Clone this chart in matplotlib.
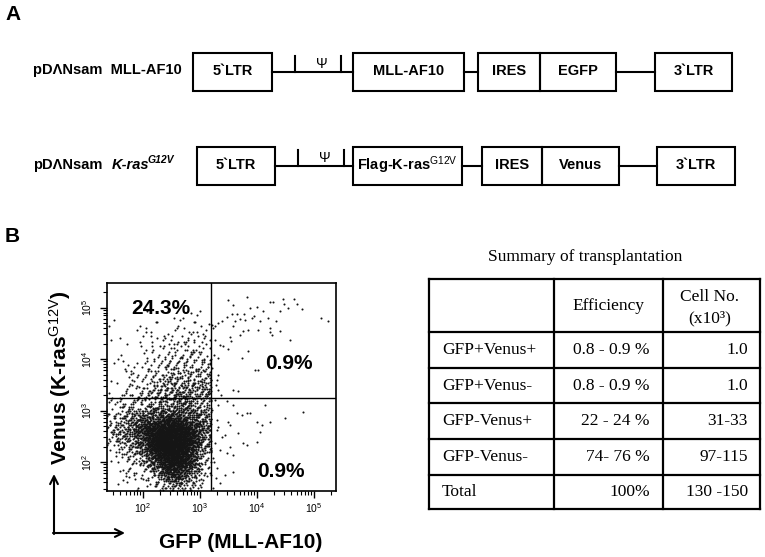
import numpy as np
import matplotlib
matplotlib.use("Agg")
import matplotlib.pyplot as plt
from matplotlib.patches import Rectangle
from matplotlib.ticker import LogLocator, LogFormatterSciNotation, NullFormatter

plt.rcParams['font.family'] = ['Liberation Sans', 'DejaVu Sans']
plt.rcParams['mathtext.fontset'] = 'custom'
plt.rcParams['mathtext.rm'] = 'Liberation Sans'
plt.rcParams['mathtext.it'] = 'Liberation Sans:italic'
plt.rcParams['mathtext.bf'] = 'Liberation Sans:bold'

# ---- panel A: vector constructs (kind, label, width in px)
construct1 = [("box", "5`LTR", 79), ("psi", "", 81), ("box", "MLL-AF10", 111),
              ("link", "", 14), ("box", "IRES", 62), ("box", "EGFP", 76),
              ("link", "", 39), ("box", "3`LTR", 77)]
construct2 = [("box", "5`LTR", 78), ("psi", "", 78), ("box", "Flag-K-ras$^{\\mathrm{G12V}}$", 109),
              ("link", "", 20), ("box", "IRES", 60), ("box", "Venus", 77),
              ("link", "", 38), ("box", "3`LTR", 78)]

# ---- panel B: flow cytometry (log10 units)
# event counts per cell left of the GFP gate, rows top (high Venus) -> bottom
grid_x_edges = [1.38, 1.64, 1.90, 2.16, 2.42, 2.68, 2.94, 3.20]
grid_y_edges = [5.47, 5.22, 4.97, 4.72, 4.48, 4.24, 3.99, 3.74, 3.50, 3.25,
                2.99, 2.73, 2.47, 2.22, 1.96, 1.70, 1.44]
grid_counts = [
    [0, 0, 0, 0, 0, 0, 0],
    [0, 0, 0, 0, 0, 0, 0],
    [1, 0, 1, 1, 2, 2, 2],
    [1, 1, 2, 3, 4, 5, 4],
    [1, 2, 3, 5, 7, 8, 7],
    [1, 2, 4, 8, 12, 14, 11],
    [2, 4, 7, 12, 18, 20, 17],
    [3, 5, 10, 20, 28, 30, 25],
    [4, 9, 17, 34, 45, 45, 38],
    [10, 15, 22, 35, 45, 40, 30],
    [20, 45, 70, 100, 120, 90, 45],
    [30, 70, 130, 260, 300, 190, 60],
    [12, 35, 90, 300, 340, 180, 40],
    [6, 15, 40, 160, 280, 130, 20],
    [3, 6, 15, 55, 170, 80, 8],
    [1, 3, 6, 15, 50, 30, 3],
]
# GFP+ events read individually
ur_gfp = [3.49, 3.82, 3.58, 4.00, 3.88, 4.23, 4.28, 4.46, 4.65, 4.47, 4.70, 4.54, 4.79, 4.40,
          4.11, 3.56, 3.65, 3.77, 3.95, 3.47, 3.70, 3.79, 3.91, 4.19, 4.33, 3.61, 3.39, 3.32,
          4.05, 5.12, 5.25, 3.26, 3.21, 3.58, 3.75, 3.84, 4.02, 4.23, 4.23, 4.26, 4.40, 3.70,
          3.53, 3.54, 4.58, 3.40, 3.49, 3.84, 3.32, 3.74, 3.96, 4.02, 3.32, 3.30, 3.58, 3.67,
          3.32, 3.23, 3.26, 3.25, 3.35, 3.21, 3.28, 3.37]
ur_venus = [5.15, 5.20, 5.05, 5.01, 4.99, 5.11, 5.11, 5.17, 5.17, 5.07, 5.07, 4.99, 4.97, 4.93,
            4.93, 4.87, 4.87, 4.87, 4.83, 4.82, 4.78, 4.76, 4.80, 4.80, 4.74, 4.74, 4.74, 4.70,
            4.74, 4.80, 4.74, 4.64, 4.66, 4.64, 4.54, 4.56, 4.56, 4.60, 4.52, 4.47, 4.54, 4.47,
            4.43, 4.35, 4.37, 4.25, 4.19, 4.16, 4.02, 4.02, 3.79, 3.79, 3.69, 3.59, 3.40, 3.38,
            3.40, 4.60, 4.37, 4.08, 4.27, 3.83, 3.50, 3.30]
lr_gfp = [3.26, 3.32, 3.47, 3.58, 4.14, 3.65, 3.74, 3.82, 3.88, 4.81, 4.00, 4.09, 4.23, 4.49,
          3.30, 3.32, 3.44, 3.67, 4.05, 3.49, 3.53, 3.30, 3.39, 3.75, 3.53, 4.00, 3.82, 3.26,
          3.35, 3.47, 3.58, 3.23, 3.30, 3.44, 3.58, 3.35, 3.21, 3.25, 3.28, 3.23]
lr_venus = [3.20, 3.11, 3.18, 3.11, 3.11, 2.95, 2.91, 2.95, 2.95, 2.97, 2.78, 2.72, 2.78, 2.85,
            2.82, 2.68, 2.52, 2.56, 2.58, 2.78, 2.72, 2.62, 2.49, 2.37, 2.29, 2.39, 2.33, 2.37,
            2.23, 2.17, 2.14, 2.08, 1.88, 1.75, 1.81, 1.59, 3.01, 2.00, 1.69, 1.50]
gate_gfp, gate_venus = 3.19, 3.25
quad_labels = ["24.3%", "0.9%", "0.9%"]
quad_pos = [(2.32, 4.99), (4.56, 3.92), (4.42, 1.81)]

# ---- table
table_title = "Summary of transplantation"
row_names = ["GFP+Venus+", "GFP+Venus-", "GFP-Venus+", "GFP-Venus-", "Total"]
efficiency = ["0.8 - 0.9 %", "0.8 - 0.9 %", "22 - 24 %", "74- 76 %", "100%"]
cell_no = ["1.0", "1.0", "31-33", "97-115", "130 -150"]

# Kronecker steps for a 4-d low-discrepancy sequence
R4 = [0.8566748839, 0.7338918566, 0.6287067210, 0.5385972572]


def fill_cells(counts, xe, ye):
    # put each cell's events around the cell centre (tent kernel one cell wide)
    xs, ys = [], []
    start = 1
    for i, row in enumerate(counts):
        for j, n in enumerate(row):
            if n == 0:
                continue
            k = np.arange(start, start + n)
            start += n
            u1, u2, u3, u4 = [(0.5 + k * a) % 1 for a in R4]
            w, h = xe[j + 1] - xe[j], ye[i] - ye[i + 1]
            xs.append((xe[j] + xe[j + 1]) / 2 + w * (u1 + u2 - 1))
            ys.append((ye[i] + ye[i + 1]) / 2 + h * (u3 + u4 - 1))
    return np.concatenate(xs), np.concatenate(ys)


fig = plt.figure(figsize=(7.65, 5.57), dpi=100)
ov = fig.add_axes([0, 0, 1, 1])
ov.set_xlim(0, 765)
ov.set_ylim(557, 0)
ov.axis('off')


def draw_construct(x, yc, parts):
    for kind, label, w in parts:
        if kind == "box":
            ov.add_patch(Rectangle((x, yc - 19), w, 38, fill=False, lw=1.5, ec='k'))
            ov.text(x + w / 2, yc - 1, label, ha='center', va='center',
                    fontsize=10.5, weight='bold')
        else:
            ov.plot([x, x + w], [yc, yc], color='k', lw=1.5)
            if kind == "psi":
                for t in (23, 69):
                    ov.plot([x + t, x + t], [yc - 16, yc], color='k', lw=1.5)
                ov.text(x + 50, yc - 8, "Ψ", ha='center', va='center', fontsize=10)
        x += w


ov.text(5, 14, "A", fontsize=15, weight='bold', va='center')
ov.text(5, 236, "B", fontsize=15, weight='bold', va='center')
ov.text(33, 70, "pDΛNsam  MLL-AF10", fontsize=10.5, weight='bold', va='center')
ov.text(33, 165, "pDΛNsam", fontsize=10.5, weight='bold', va='center')
ov.text(112, 165, "K-ras", fontsize=10.5, weight='bold', style='italic', va='center')
ov.text(148, 160, "G12V", fontsize=7.5, weight='bold', style='italic', va='center')
draw_construct(193, 72, construct1)
draw_construct(197, 166, construct2)

# scatter plot
ax = fig.add_axes([107 / 765, 1 - 491 / 557, 229 / 765, 208 / 557])
gx, gy = fill_cells(grid_counts, grid_x_edges, grid_y_edges)
gx = np.where(gx > grid_x_edges[-1], 2 * grid_x_edges[-1] - gx, gx)  # keep GFP- events left of gate
px = np.concatenate([gx, ur_gfp, lr_gfp])
py = np.concatenate([gy, ur_venus, lr_venus])
ax.scatter(10 ** px, 10 ** py, s=2.2, marker='o', c='#151515', linewidths=0)
ax.set_xscale('log')
ax.set_yscale('log')
ax.set_xlim(10 ** 1.368, 10 ** 5.386)
ax.set_ylim(10 ** 1.437, 10 ** 5.476)
ax.axvline(10 ** gate_gfp, color='k', lw=1)
ax.axhline(10 ** gate_venus, color='k', lw=1)
for lab, (qx, qy) in zip(quad_labels, quad_pos):
    ax.text(10 ** qx, 10 ** qy, lab, ha='center', va='center', fontsize=15, weight='bold')
for a in (ax.xaxis, ax.yaxis):
    a.set_major_locator(LogLocator(base=10, numticks=10))
    a.set_minor_locator(LogLocator(base=10, subs=np.arange(2, 10), numticks=10))
    a.set_major_formatter(LogFormatterSciNotation())
    a.set_minor_formatter(NullFormatter())
ax.tick_params(which='major', length=5, width=1, labelsize=7.5, direction='out')
ax.tick_params(which='minor', length=3, width=0.8, direction='out')
ax.tick_params(axis='x', pad=2)
ax.tick_params(axis='y', pad=4)
for lab in ax.get_yticklabels():
    lab.set_rotation(90)
    lab.set_va('center')
for sp in ax.spines.values():
    sp.set_linewidth(1.2)

ov.text(60, 378, "Venus (K-ras$^{\\mathrm{G12V}}$)", rotation=90, ha='center', va='center',
        fontsize=15, weight='bold')
ov.text(241, 542, "GFP (MLL-AF10)", ha='center', va='center', fontsize=15, weight='bold')
ov.annotate("", xy=(54, 474), xytext=(54, 534),
            arrowprops=dict(arrowstyle='->', lw=1.5, color='k', mutation_scale=14,
                            shrinkA=0, shrinkB=0))
ov.annotate("", xy=(125, 533), xytext=(53, 533),
            arrowprops=dict(arrowstyle='->', lw=1.5, color='k', mutation_scale=14,
                            shrinkA=0, shrinkB=0))

# table
serif = ['Liberation Serif', 'DejaVu Serif']
cols = [429, 554, 663, 760]
rows = [279, 332, 368, 403, 439, 475, 509]
ov.text(585, 257, table_title, ha='center', va='center', fontsize=12.5, family=serif)
for cx in cols:
    ov.plot([cx, cx], [rows[0], rows[-1]], color='k', lw=1.6)
for ry in rows:
    ov.plot([cols[0], cols[-1]], [ry, ry], color='k', lw=1.6)
ov.text(608, 306, "Efficiency", ha='center', va='center', fontsize=12.5, family=serif)
ov.text(710, 297, "Cell No.", ha='center', va='center', fontsize=12.5, family=serif)
ov.text(710, 318, "(x10³)", ha='center', va='center', fontsize=12.5, family=serif)
for i, (nm, ef, cn) in enumerate(zip(row_names, efficiency, cell_no)):
    yc = (rows[i + 1] + rows[i + 2]) / 2
    ov.text(442, yc, nm, ha='left', va='center', fontsize=12.5, family=serif)
    ov.text(650, yc, ef, ha='right', va='center', fontsize=12.5, family=serif)
    ov.text(748, yc, cn, ha='right', va='center', fontsize=12.5, family=serif)

fig.savefig("out.png", dpi=100)
